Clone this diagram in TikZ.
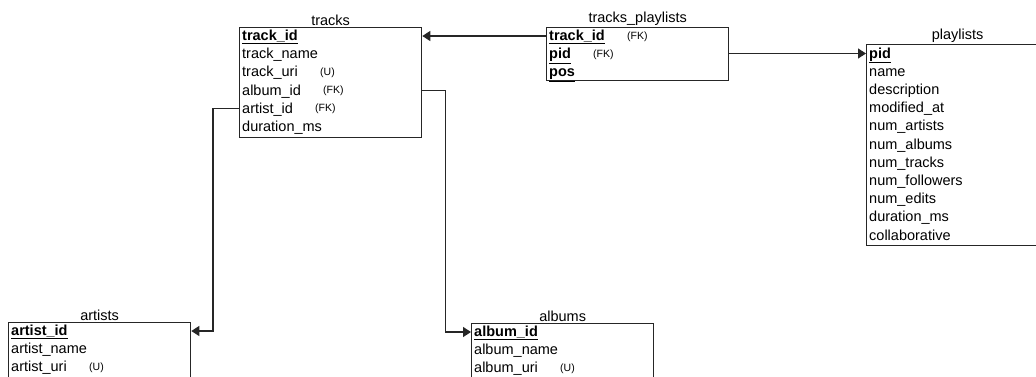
\documentclass[tikz,border=0pt]{standalone}
\usepackage{fontspec}
\setmainfont{Liberation Sans}
\usetikzlibrary{arrows.meta}
\begin{document}
\begin{tikzpicture}[x=1pt,y=-1pt,
  tbl/.style={draw=black!85, line width=1.3pt, anchor=north west, minimum width=182pt, inner sep=0pt},
  ttl/.style={anchor=south, inner sep=0pt, yshift=1.5pt, font=\fontsize{14.5}{16}\selectfont},
  fld/.style={anchor=west, inner sep=0pt, text height=12pt, text depth=3pt, font=\fontsize{14.5}{16}\selectfont},
  tag/.style={anchor=west, inner sep=0pt, text height=8pt, text depth=2pt, font=\fontsize{10.5}{12}\selectfont},
  conn/.style={draw=black!85, line width=1.3pt, -{Triangle[length=8pt,width=10pt]}},
]
\useasboundingbox (0,0) rectangle (1036,376);
\clip (0,0) rectangle (1036,376);

% tracks
\node[tbl, minimum height=110pt] (tracks) at (239,27) {};
\node[ttl] (trt) at (tracks.north) {tracks};
\node[fld] (tr1) at (242,36) {\underline{\textbf{track\_id}}};
\node[fld] (tr2) at (242,54.2) {track\_name};
\node[fld] (tr3) at (242,72.4) {track\_uri};
\node[tag] (tr3t) at (320,72.4) {(U)};
\node[fld] (tr4) at (242,90.6) {album\_id};
\node[tag] (tr4t) at (323,90.6) {(FK)};
\node[fld] (tr5) at (242,108.8) {artist\_id};
\node[tag] (tr5t) at (315,108.8) {(FK)};
\node[fld] (tr6) at (242,127) {duration\_ms};

% tracks_playlists
\node[tbl, minimum height=53pt] (tp) at (546,27) {};
\node[ttl] (tpt) at (tp.north) {tracks\_playlists};
\node[fld] (tp1) at (549,36) {\underline{\textbf{track\_id}}};
\node[tag] (tp1t) at (627,36) {(FK)};
\node[fld] (tp2) at (549,54.2) {\underline{\textbf{pid}}};
\node[tag] (tp2t) at (593,54.2) {(FK)};
\node[fld] (tp3) at (549,72.4) {\underline{\textbf{pos}}};

% playlists
\node[tbl, minimum height=201pt] (pl) at (866,44) {};
\node[ttl] (plt) at (pl.north) {playlists};
\node[fld] (pl1) at (869,53.5) {\underline{\textbf{pid}}};
\node[fld] (pl2) at (869,71.7) {name};
\node[fld] (pl3) at (869,89.9) {description};
\node[fld] (pl4) at (869,108.1) {modified\_at};
\node[fld] (pl5) at (869,126.3) {num\_artists};
\node[fld] (pl6) at (869,144.5) {num\_albums};
\node[fld] (pl7) at (869,162.7) {num\_tracks};
\node[fld] (pl8) at (869,180.9) {num\_followers};
\node[fld] (pl9) at (869,199.1) {num\_edits};
\node[fld] (pl10) at (869,217.3) {duration\_ms};
\node[fld] (pl11) at (869,235.5) {collaborative};

% artists
\node[tbl, minimum height=80pt] (ar) at (8,322) {};
\node[ttl] (art) at (ar.north) {artists};
\node[fld] (ar1) at (11,331) {\underline{\textbf{artist\_id}}};
\node[fld] (ar2) at (11,349.2) {artist\_name};
\node[fld] (ar3) at (11,367.4) {artist\_uri};
\node[tag] (ar3t) at (89,367.4) {(U)};

% albums
\node[tbl, minimum height=80pt] (al) at (471,323) {};
\node[ttl] (alt) at (al.north) {albums};
\node[fld] (al1) at (474,332) {\underline{\textbf{album\_id}}};
\node[fld] (al2) at (474,350.2) {album\_name};
\node[fld] (al3) at (474,368.4) {album\_uri};
\node[tag] (al3t) at (560,368.4) {(U)};

% connectors
\draw[conn] (tp.west |- tp1) -- (tracks.east |- tp1);
\draw[conn] (tp.east |- pl1) -- (pl.west |- pl1);
\draw[conn] (tracks.west |- tr5) -- ++(-26,0) |- (ar.east |- ar1);
\draw[conn] (tracks.east |- tr4) -- ++(23,0) |- (al.west |- al1);
\end{tikzpicture}
\end{document}
